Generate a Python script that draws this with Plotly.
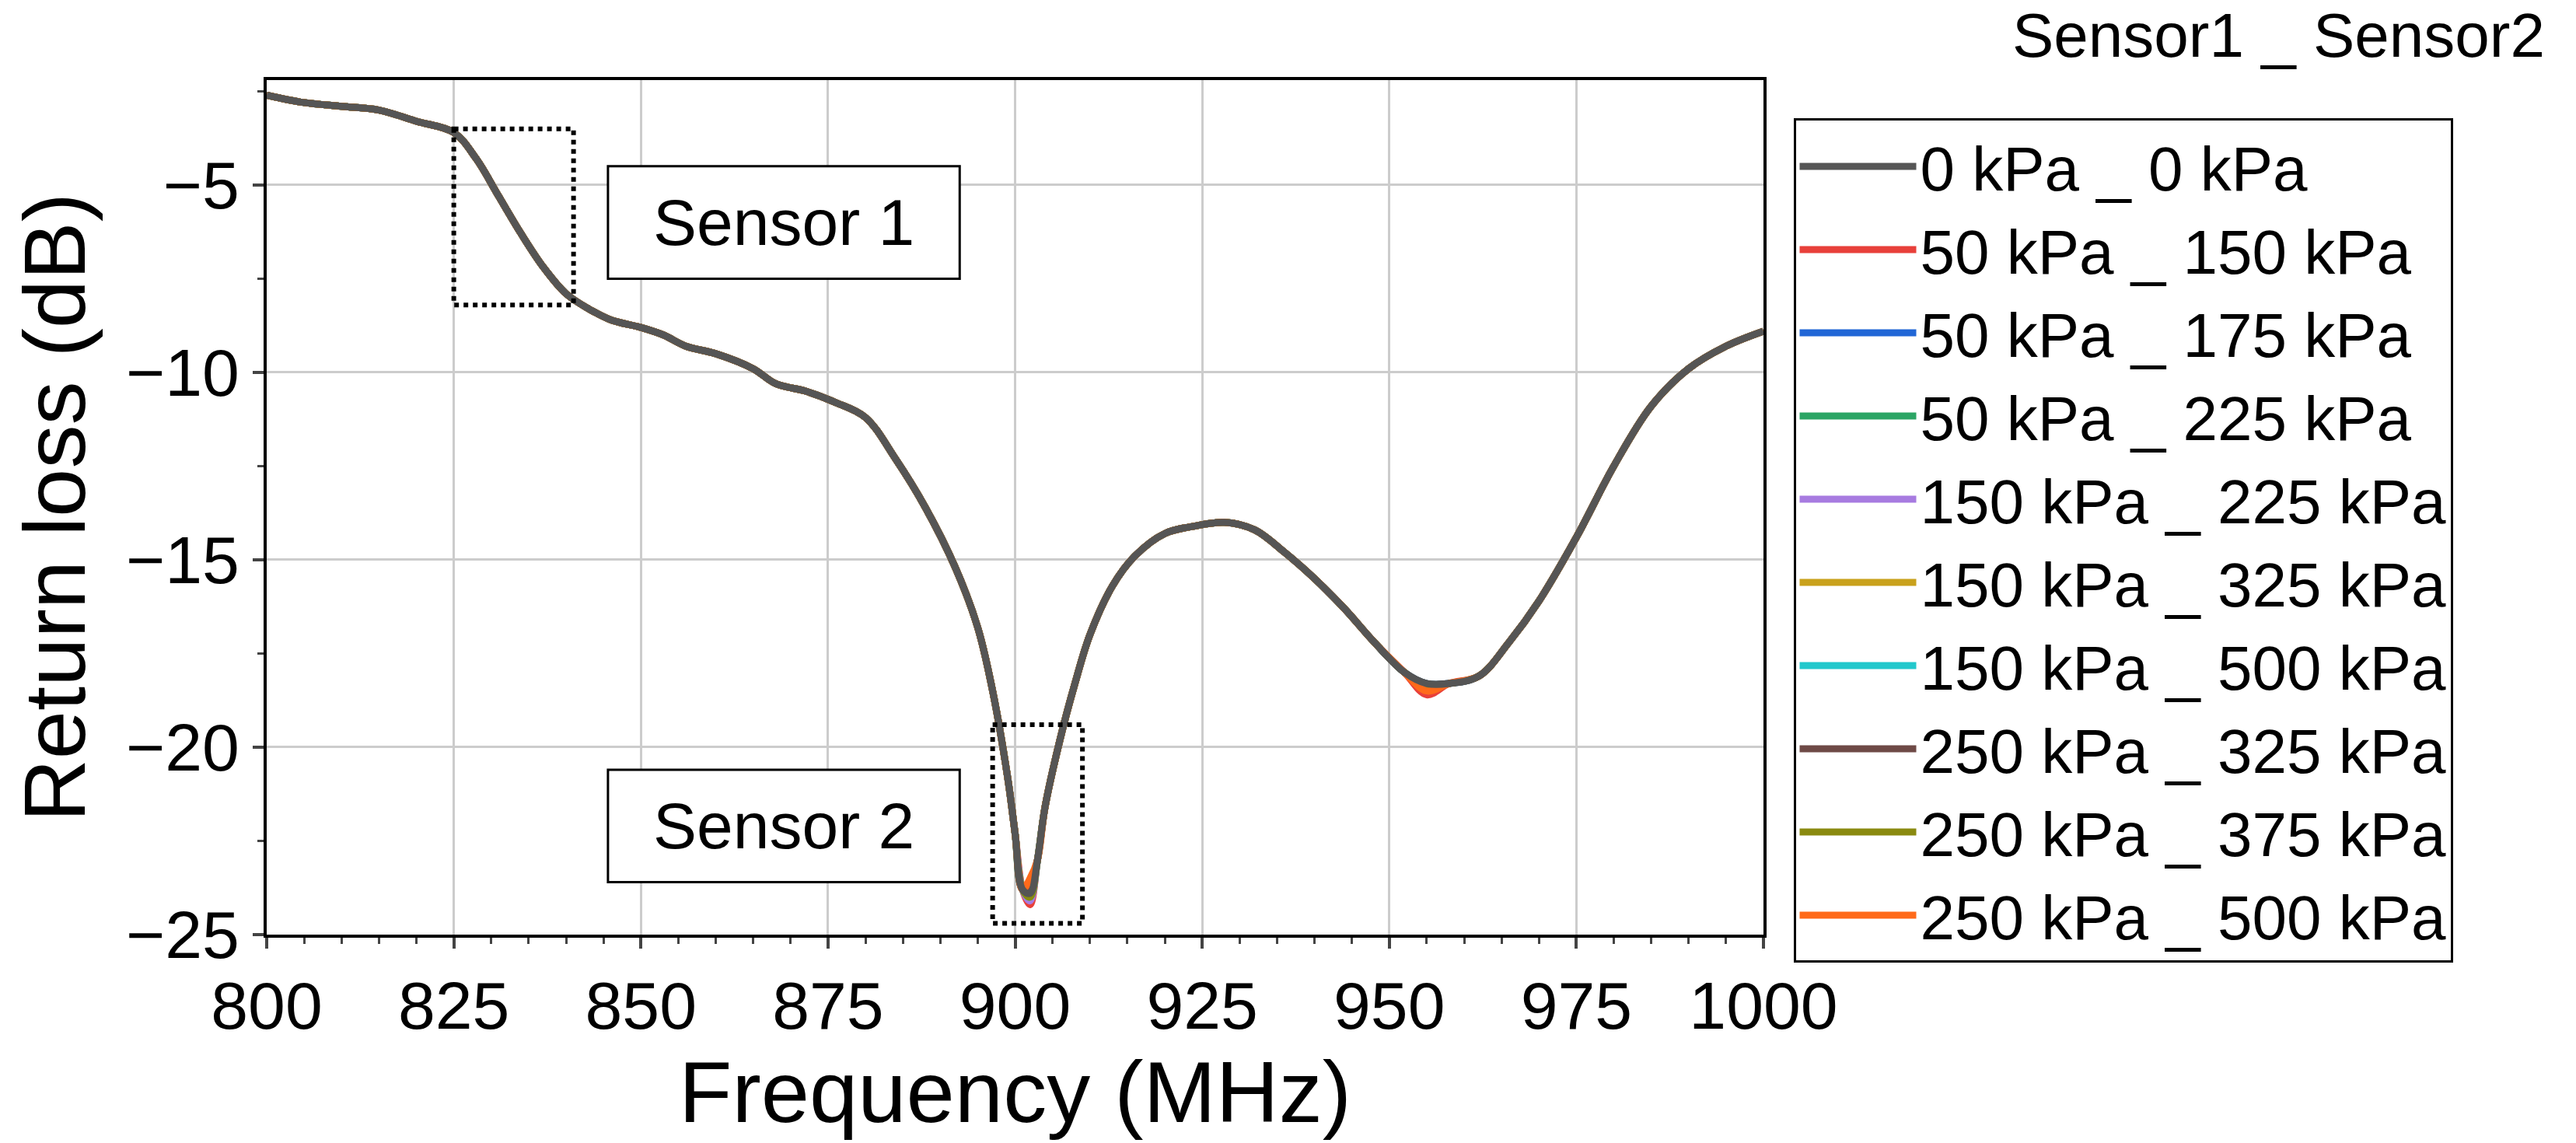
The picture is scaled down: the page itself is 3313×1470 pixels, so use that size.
import plotly.graph_objects as go

freq = [800, 805, 810, 815, 820, 825, 828, 831, 834, 837, 840, 843, 846, 850, 853, 856, 860, 865, 868, 872, 876, 880, 884, 888, 892, 895, 897, 899, 900, 901, 902, 903, 904, 906, 908, 910, 913, 916, 920, 924, 928, 932, 936, 940, 944, 948, 952, 955, 958, 962, 966, 970, 975, 980, 985, 990, 995, 1000]
base = [-2.6, -2.8, -2.9, -3.0, -3.3, -3.6, -4.3, -5.3, -6.3, -7.2, -7.9, -8.3, -8.6, -8.8, -9.0, -9.3, -9.5, -9.9, -10.3, -10.5, -10.8, -11.2, -12.3, -13.6, -15.2, -16.8, -18.5, -20.8, -22.3, -23.8, -23.9, -23.0, -21.6, -19.8, -18.3, -17.0, -15.7, -14.9, -14.3, -14.1, -14.0, -14.2, -14.8, -15.5, -16.3, -17.2, -18.0, -18.3, -18.3, -18.1, -17.2, -16.1, -14.4, -12.5, -10.9, -9.9, -9.3, -8.9]

labels = ["0 kPa _ 0 kPa", "50 kPa _ 150 kPa", "50 kPa _ 175 kPa", "50 kPa _ 225 kPa",
          "150 kPa _ 225 kPa", "150 kPa _ 325 kPa", "150 kPa _ 500 kPa",
          "250 kPa _ 325 kPa", "250 kPa _ 375 kPa", "250 kPa _ 500 kPa"]
colors = ["#555555", "#e8403a", "#2166d6", "#2ba564", "#a77be0", "#c9a11c",
          "#22c8cc", "#6e4a46", "#8a8a10", "#ff6a1a"]
# per-series minimum near 902 MHz and near 955 MHz
dip_min = [-23.9, -24.2, -24.0, -23.8, -24.1, -23.9, -24.0, -23.7, -24.0, -23.5]
valley_min = [-18.3, -18.6, -18.4, -18.4, -18.3, -18.4, -18.3, -18.3, -18.4, -18.5]

fig = go.Figure()
order = list(range(1, 10)) + [0]
for i in order:
    y = list(base)
    y[freq.index(902)] = dip_min[i]
    y[freq.index(955)] = valley_min[i]
    fig.add_trace(go.Scatter(x=freq, y=y, mode="lines", name=labels[i],
                             line=dict(color=colors[i], width=9, shape="spline"),
                             legendrank=i + 1))

dot = dict(color="black", width=6, dash="dot")
fig.add_shape(type="rect", x0=825, x1=841, y0=-3.5, y1=-8.2, line=dot)
fig.add_shape(type="rect", x0=897, x1=909, y0=-19.4, y1=-24.7, line=dot)
for txt, yc in [("Sensor 1", -6.0), ("Sensor 2", -22.1)]:
    fig.add_shape(type="rect", x0=845.6, x1=892.6, y0=yc - 1.5, y1=yc + 1.5,
                  line=dict(color="black", width=3), fillcolor="white")
    fig.add_annotation(x=869.1, y=yc, text=txt, showarrow=False,
                       font=dict(size=84, color="black"))

fig.add_annotation(xref="paper", yref="paper", x=1.523, y=1.01, xanchor="right",
                   yanchor="bottom", text="Sensor1 _ Sensor2", showarrow=False,
                   font=dict(size=80, color="black"))

axis = dict(showgrid=True, gridcolor="#cccccc", gridwidth=3, showline=True, mirror=True,
            linecolor="black", linewidth=4, ticks="outside", ticklen=14, tickwidth=4,
            tickfont=dict(size=86, color="black"), zeroline=False)
fig.update_xaxes(axis, range=[800, 1000], dtick=25,
                 title=dict(text="Frequency (MHz)", font=dict(size=112), standoff=25),
                 minor=dict(ticks="outside", ticklen=8, dtick=5, tickwidth=3))
fig.update_yaxes(axis, range=[-25, -2.2], tickvals=[-5, -10, -15, -20, -25],
                 ticktext=["\u22125", "\u221210", "\u221215", "\u221220", "\u221225"],
                 title=dict(text="Return loss (dB)", font=dict(size=112), standoff=20),
                 minor=dict(ticks="outside", ticklen=8, dtick=2.5, tickwidth=3))

fig.update_layout(width=3313, height=1470, plot_bgcolor="white", paper_bgcolor="white",
                  font=dict(family="Arial, Liberation Sans", color="black"),
                  margin=dict(l=335, r=1053, t=95, b=276),
                  showlegend=True,
                  legend=dict(x=1.02, y=0.955, xanchor="left", yanchor="top",
                              bordercolor="black", borderwidth=3,
                              font=dict(size=80), itemwidth=150, tracegroupgap=0))
fig.write_html("out.html")
